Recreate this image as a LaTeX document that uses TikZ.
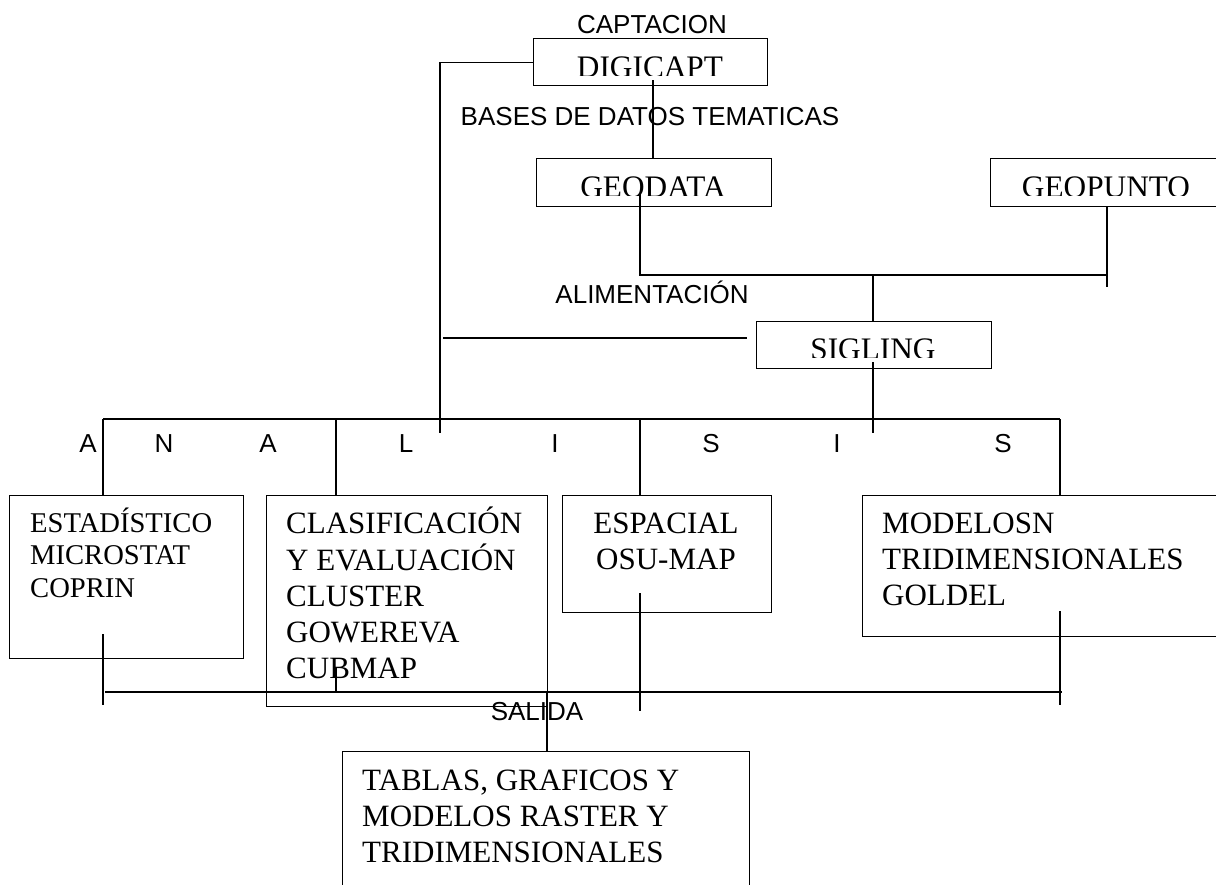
\documentclass[tikz,border=0pt]{standalone}
\usepackage{fontspec}
\setmainfont{Liberation Serif}
\newfontfamily\arialf{Liberation Sans}
\begin{document}
\begin{tikzpicture}[x=1pt,y=-1pt,
  box/.style={draw, line width=1.4pt, inner sep=0pt, anchor=north west},
  conn/.style={line width=1.2pt},
  lab/.style={font=\arialf\fontsize{26}{30}\selectfont, inner sep=0pt, anchor=base},
  one/.style={font=\fontsize{31.3}{36}\selectfont, inner sep=0pt, anchor=base},
  multi/.style={font=\fontsize{31}{36}\selectfont, inner sep=0pt, anchor=base west},
  small/.style={font=\fontsize{28.6}{32.5}\selectfont, inner sep=0pt, anchor=base west}]
\path[use as bounding box] (0,0) rectangle (1216,884);
\clip (0,0) rectangle (1216,884);

% boxes
\node[box, minimum width=234pt, minimum height=47pt] (dig) at (533,38) {};
\node[box, minimum width=235pt, minimum height=48pt] (geo) at (536,158) {};
\node[box, minimum width=280pt, minimum height=48pt] (gpt) at (990,158) {};
\node[box, minimum width=235pt, minimum height=47pt] (sig) at (756,321) {};
\node[box, minimum width=234pt, minimum height=163pt] (est) at (9,495) {};
\node[box, minimum width=281pt, minimum height=211pt] (cla) at (266,495) {};
\node[box, minimum width=209pt, minimum height=117pt] (esp) at (562,495) {};
\node[box, minimum width=420pt, minimum height=141pt] (mod) at (862,495) {};
\node[box, minimum width=407pt, minimum height=200pt] (tab) at (342,751) {};

% labels
\node[lab] (capt) at (652,33) {CAPTACION};
\node[lab] (bases) at (650,125) {BASES DE DATOS TEMATICAS};
\node[lab] (alim) at (652,303) {ALIMENTACIÓN};
\node[lab] (sal) at (537,720) {SALIDA};
\node[lab] (l1) at (88,452) {A};
\node[lab] (l2) at (164,452) {N};
\node[lab] (l3) at (268,452) {A};
\node[lab] (l4) at (406,452) {L};
\node[lab] (l5) at (555,452) {I};
\node[lab] (l6) at (711,452) {S};
\node[lab] (l7) at (837,452) {I};
\node[lab] (l8) at (1003,452) {S};

% single-line box texts (clipped at the bottom)
\begin{scope}\clip (533,38) rectangle (767,75);
\node[one] (digt) at (650,77) {DIGICAPT};\end{scope}
\begin{scope}\clip (536,158) rectangle (771,195);
\node[one] (geot) at (653,197) {GEODATA};\end{scope}
\begin{scope}\clip (990,158) rectangle (1216,195);
\node[one] (gptt) at (1106,197) {GEOPUNTO};\end{scope}
\begin{scope}\clip (756,321) rectangle (991,357);
\node[one] (sigt) at (873,359) {SIGLING};\end{scope}

% multi-line box texts
\node[small] (estt) at (30,532) {\begin{tabular}[t]{@{}l@{}}ESTADÍSTICO\\MICROSTAT\\COPRIN\end{tabular}};
\node[multi] (clat) at (286,533) {\begin{tabular}[t]{@{}l@{}}CLASIFICACIÓN\\Y EVALUACIÓN\\CLUSTER\\GOWEREVA\\CUBMAP\end{tabular}};
\node[multi, anchor=base] (espt) at (666,533) {\begin{tabular}[t]{@{}c@{}}ESPACIAL\\OSU-MAP\end{tabular}};
\node[multi] (modt) at (882,533) {\begin{tabular}[t]{@{}l@{}}MODELOSN\\TRIDIMENSIONALES\\GOLDEL\end{tabular}};
\node[multi] (tabt) at (362,790) {\begin{tabular}[t]{@{}l@{}}TABLAS, GRAFICOS Y\\MODELOS RASTER Y\\TRIDIMENSIONALES\end{tabular}};

% junction coordinates
\coordinate (dl) at (440,433);
\coordinate (din) at (653,80);
\coordinate (gin) at (640,193);
\coordinate (jL) at (640,275);
\coordinate (jR) at (1107,275);
\coordinate (jM) at (873,275);
\coordinate (gend) at (1107,287);
\coordinate (sl1) at (443,338);
\coordinate (sl2) at (747,338);
\coordinate (sin) at (873,362);
\coordinate (send) at (873,433);
\coordinate (a1) at (103,419);
\coordinate (a2) at (336,419);
\coordinate (a3) at (640,419);
\coordinate (a4) at (1060,419);
\coordinate (b0) at (105,692);
\coordinate (b5) at (1062,692);
\coordinate (e1) at (103,634);
\coordinate (e1b) at (103,705);
\coordinate (c1) at (336,668);
\coordinate (c1b) at (336,692);
\coordinate (s1) at (640,593);
\coordinate (s1b) at (640,711);
\coordinate (m1) at (1060,611);
\coordinate (m1b) at (1060,705);
\coordinate (t1) at (547,692);

% connectors
\draw[conn] (dig.west) -| (dl);
\draw[conn] (din) -- (din |- geo.north);
\draw[conn] (gin) -- (jL) -- (jR);
\draw[conn] (gpt.south -| jR) -- (gend);
\draw[conn] (jM) -- (jM |- sig.north);
\draw[conn] (sl1) -- (sl2);
\draw[conn] (sin) -- (send);
\draw[conn] (a1) -- (a4);
\draw[conn] (a1) -- (a1 |- est.north);
\draw[conn] (a2) -- (a2 |- cla.north);
\draw[conn] (a3) -- (a3 |- esp.north);
\draw[conn] (a4) -- (a4 |- mod.north);
\draw[conn] (b0) -- (b5);
\draw[conn] (e1) -- (e1b);
\draw[conn] (c1) -- (c1b);
\draw[conn] (s1) -- (s1b);
\draw[conn] (m1) -- (m1b);
\draw[conn] (t1) -- (t1 |- tab.north);
\end{tikzpicture}
\end{document}
